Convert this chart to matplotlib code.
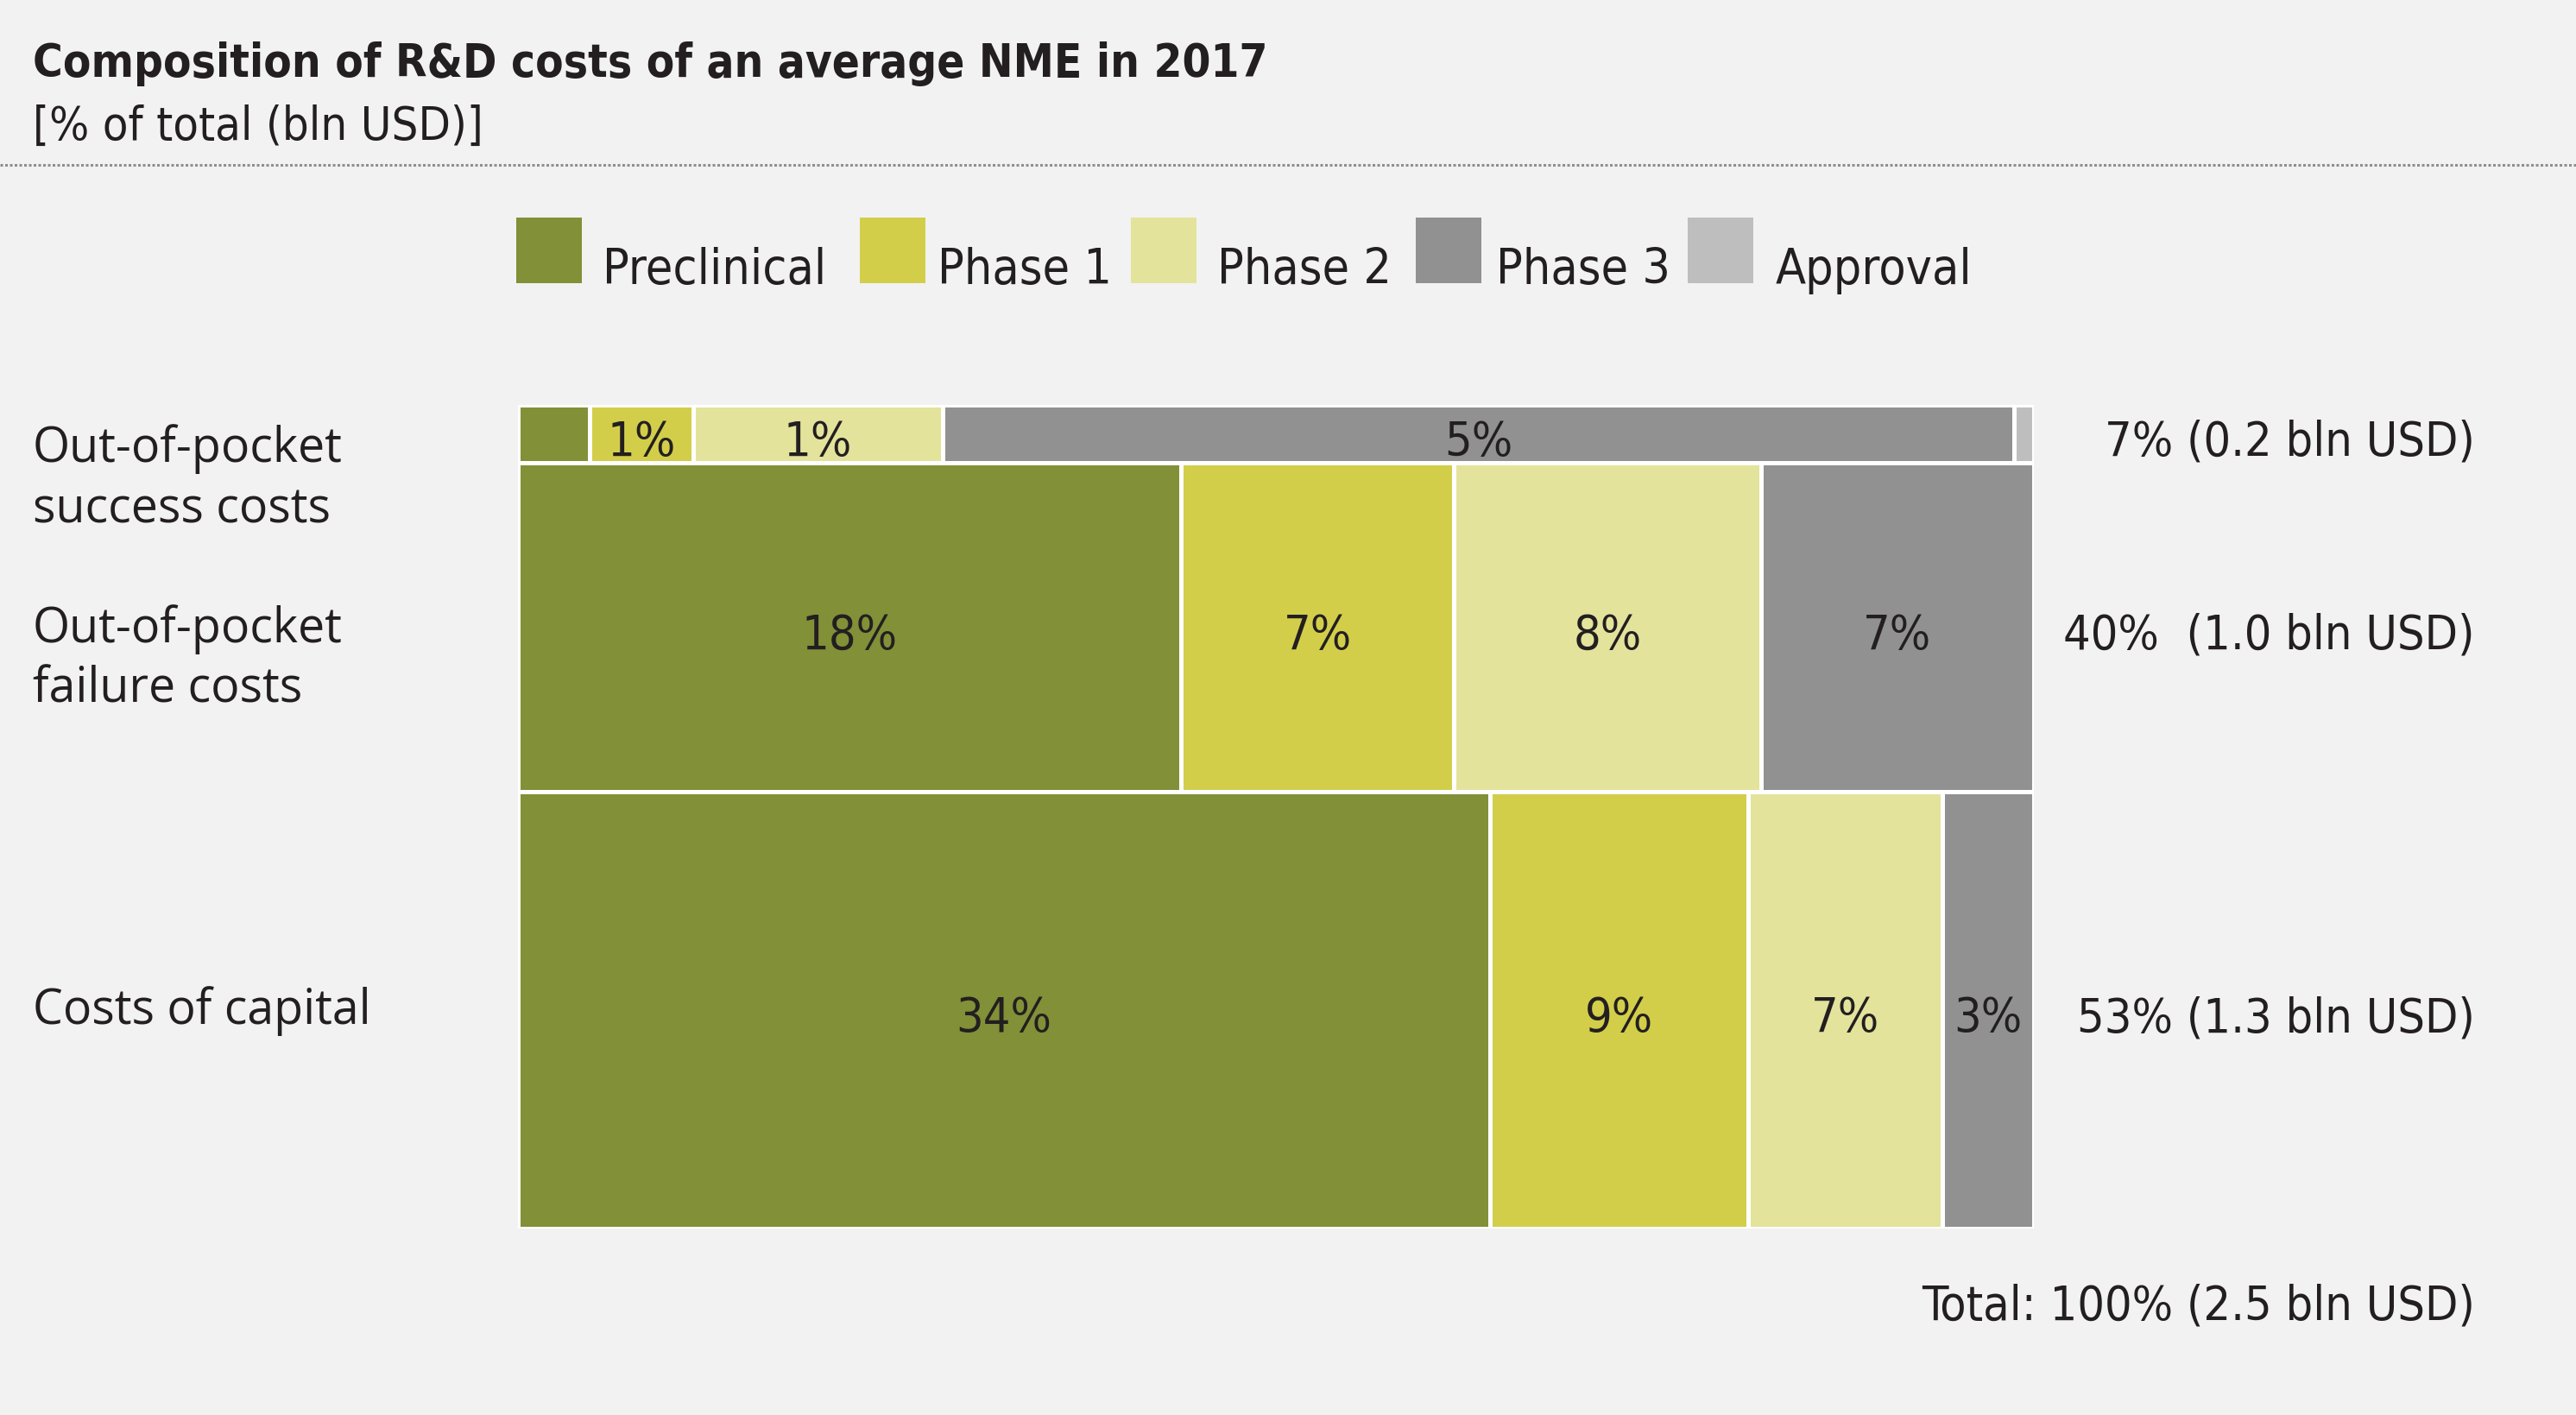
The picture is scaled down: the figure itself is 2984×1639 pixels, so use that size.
import matplotlib.pyplot as plt
from matplotlib.lines import Line2D
from matplotlib.patches import Rectangle
from matplotlib.transforms import blended_transform_factory, offset_copy

# data
row_names = [["Out-of-pocket", "success costs"],
             ["Out-of-pocket", "failure costs"],
             ["Costs of capital"]]
row_totals = [7, 40, 53]
row_totals_text = ["7% (0.2 bln USD)", "40%  (1.0 bln USD)", "53% (1.3 bln USD)"]
total_text = "Total: 100% (2.5 bln USD)"

phases = ["Preclinical", "Phase 1", "Phase 2", "Phase 3", "Approval"]
phase_colors = ["#829037", "#d2ce4a", "#e3e39c", "#919191", "#bfbebe"]

success_costs = [0.33, 0.48, 1.15, 4.95, 0.09]
failure_costs = [17.5, 7.2, 8.1, 7.2, 0.0]
capital_costs = [34.0, 9.0, 6.8, 3.2, 0.0]
row_values = [success_costs, failure_costs, capital_costs]

success_labels = ["", "1%", "1%", "5%", ""]
failure_labels = ["18%", "7%", "8%", "7%", ""]
capital_labels = ["34%", "9%", "7%", "3%", ""]
row_cell_labels = [success_labels, failure_labels, capital_labels]

BG = "#f2f2f2"
TXT = "#231f20"
CAP = 0.73  # cap height of DejaVu Sans, in em
narrow = dict(family="DejaVu Sans", fontstretch="condensed", color=TXT)
wide = dict(family=["Open Sans", "DejaVu Sans"], color=TXT)

W, H = 2984, 1640
fig = plt.figure(figsize=(W / 200, H / 200), dpi=200, facecolor=BG)


def fx(px):
    return px / W


def fy(py):
    return 1 - py / H


# title block
fig.text(fx(38), fy(89), "Composition of R&D costs of an average NME in 2017",
         weight="bold", fontsize=19, va="baseline", **narrow)
fig.text(fx(38), fy(162), "[% of total (bln USD)]",
         fontsize=19.5, va="baseline", **narrow)
fig.add_artist(Line2D([0, 1], [fy(192), fy(192)], transform=fig.transFigure,
                      color="#8f8f8f", lw=1.1, linestyle=(0, (1.0, 0.8))))

# legend
patch_x = [598, 996, 1310, 1640, 1955]
label_x = [698, 1086, 1410, 1733, 2057]
for name, col, x0, xt in zip(phases, phase_colors, patch_x, label_x):
    fig.add_artist(Rectangle((fx(x0), fy(329)), fx(76), 76 / H,
                             transform=fig.transFigure, color=col, lw=0))
    fig.text(fx(xt), fy(329), name, fontsize=20.5, va="baseline", **narrow)

# marimekko
ax = fig.add_axes([fx(600), fy(1424), fx(2356 - 600), (1424 - 470) / H])
ax.set_facecolor(BG)
ax.set_xlim(0, 1)
ax.set_ylim(100, 0)
ax.axis("off")

fs_cell = 20
top = 0
for vals, labels, tot in zip(row_values, row_cell_labels, row_totals):
    row_sum = sum(vals)
    left = 0
    for v, lab, col in zip(vals, labels, phase_colors):
        if v <= 0:
            continue
        w = v / row_sum
        ax.barh(top + tot / 2, w, left=left, height=tot, color=col,
                edgecolor="white", linewidth=1.8)
        if lab:
            ax.annotate(lab, (left + w / 2, top + tot / 2),
                        xytext=(0, -CAP * fs_cell / 2 - 1.4), textcoords="offset points",
                        ha="center", va="baseline", fontsize=fs_cell, **narrow)
        left += w
    top += tot

# row labels left
name_baselines = [[535, 605], [744, 814], [1186]]
for lines, ys in zip(row_names, name_baselines):
    for line, y in zip(lines, ys):
        fig.text(fx(38), fy(y), line, fontsize=20, va="baseline", **wide)

# totals right, centred on each row
fs_tot = 20
row_trans = offset_copy(blended_transform_factory(fig.transFigure, ax.transData),
                        fig=fig, y=-CAP * fs_tot / 2 - 1.4, units="points")
top = 0
for txt, tot in zip(row_totals_text, row_totals):
    fig.text(fx(2867), top + tot / 2, txt, transform=row_trans, fontsize=fs_tot,
             ha="right", va="baseline", **narrow)
    top += tot
fig.text(fx(2867), fy(1529), total_text, fontsize=fs_tot, ha="right",
         va="baseline", **narrow)

fig.savefig("out.png", dpi=200, facecolor=BG)
